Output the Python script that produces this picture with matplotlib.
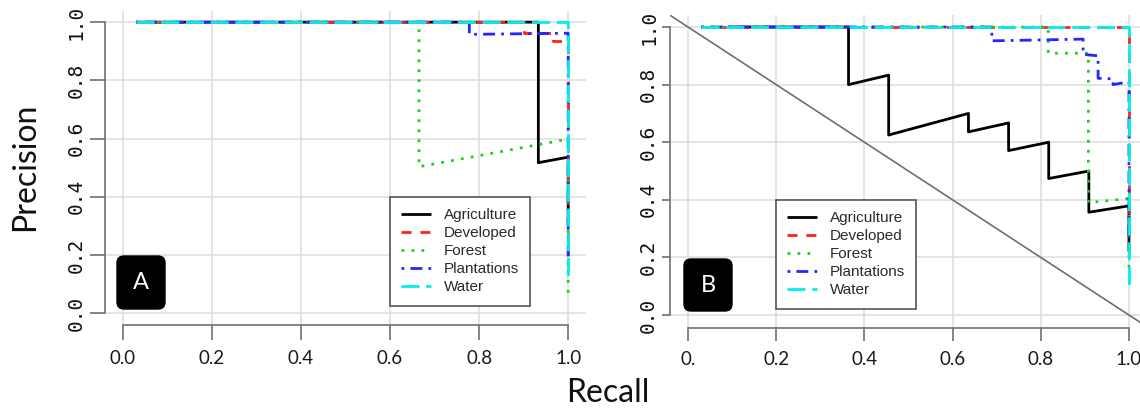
import matplotlib
matplotlib.use("Agg")
import matplotlib.pyplot as plt
from matplotlib.patches import FancyBboxPatch
from matplotlib.transforms import IdentityTransform

# ---------------- data ----------------
classes = ["Agriculture", "Developed", "Forest", "Plantations", "Water"]

# Panel A
agri_A_rec = [0.03, 0.933, 0.933, 1.0, 1.0]
agri_A_prec = [1.0, 1.0, 0.517, 0.536, 0.30]
dev_A_rec = [0.03, 0.90, 0.90, 0.966, 0.966, 1.0, 1.0]
dev_A_prec = [1.0, 1.0, 0.963, 0.963, 0.934, 0.934, 0.20]
for_A_rec = [0.03, 0.665, 0.665, 1.0, 1.0]
for_A_prec = [1.0, 1.0, 0.503, 0.598, 0.055]
pla_A_rec = [0.03, 0.778, 0.778, 1.0, 1.0]
pla_A_prec = [1.0, 1.0, 0.958, 0.962, 0.15]
wat_A_rec = [0.03, 1.0, 1.0]
wat_A_prec = [1.0, 1.0, 0.11]

# Panel B
agri_B_rec = [0.091, 0.364, 0.364, 0.455, 0.455, 0.636, 0.636, 0.727, 0.727,
              0.818, 0.818, 0.909, 0.909, 1.0, 1.0]
agri_B_prec = [1.0, 1.0, 0.80, 0.833, 0.625, 0.70, 0.636, 0.667, 0.571,
               0.60, 0.474, 0.50, 0.357, 0.379, 0.22]
dev_B_rec = [0.03, 1.0, 1.0]
dev_B_prec = [1.0, 1.0, 0.30]
for_B_rec = [0.03, 0.817, 0.817, 0.908, 0.908, 1.0, 1.0]
for_B_prec = [1.0, 1.0, 0.909, 0.909, 0.39, 0.405, 0.15]
pla_B_rec = [0.03, 0.689, 0.689, 0.896, 0.896, 0.93, 0.93, 0.964, 0.964, 1.0, 1.0]
pla_B_prec = [1.0, 1.0, 0.952, 0.958, 0.905, 0.90, 0.822, 0.82, 0.80, 0.81, 0.25]
wat_B_rec = [0.03, 1.0, 1.0]
wat_B_prec = [1.0, 1.0, 0.098]

ticks = [0.0, 0.2, 0.4, 0.6, 0.8, 1.0]
ytick_labels = ["0.0", "0.2", "0.4", "0.6", "0.8", "1.0"]
xtick_labels_A = ["0.0", "0.2", "0.4", "0.6", "0.8", "1.0"]
xtick_labels_B = ["0.", "0.2", "0.4", "0.6", "0.8", "1.0"]
panel_letters = ["A", "B"]
xlabel = "Recall"
ylabel = "Precision"

# ---------------- styles ----------------
colors = ["black", "#FF2020", "#22CC22", "#2525FF", "#00F0F0"]
LW = 2.0
dashes = [None, (3.6, 3.2), (1, 2.6), (1, 2.2, 4.3, 2.2), (6.5, 2.4)]

W, H = 1140, 412
fig = plt.figure(figsize=(W / 100, H / 100), dpi=100)
fig.patch.set_facecolor("white")

def px_axes(left, right, top, bottom):
    return [left / W, 1 - bottom / H, (right - left) / W, (bottom - top) / H]

axA = fig.add_axes(px_axes(105, 586, 11.1, 325))
axB = fig.add_axes(px_axes(670.4, 1146.6, 15.5, 328))

panels = [
    (axA, [(agri_A_rec, agri_A_prec), (dev_A_rec, dev_A_prec), (for_A_rec, for_A_prec),
           (pla_A_rec, pla_A_prec), (wat_A_rec, wat_A_prec)],
     (-0.041, 1.038), xtick_labels_A, 10.8, 10.8, (390, 197)),
    (axB, [(agri_B_rec, agri_B_prec), (dev_B_rec, dev_B_prec), (for_B_rec, for_B_prec),
           (pla_B_rec, pla_B_prec), (wat_B_rec, wat_B_prec)],
     (-0.045, 1.04), xtick_labels_B, 9.4, 5.8, (776, 200)),
]

AXC = "#707070"
for i, (ax, series, ylim, xtl, xtlen, ytlen, legpos) in enumerate(panels):
    ax.set_xlim(-0.04, 1.04)
    ax.set_ylim(*ylim)
    ax.set_facecolor("white")
    ax.grid(True, color="#DDDDDD", lw=1.1, zorder=0)
    ax.set_axisbelow(True)
    if i == 1:
        ax.axline((0, 1), slope=-1, color="#6E6E6E", lw=1.2, zorder=1)
    for (r, p), name, c, d in zip(series, classes, colors, dashes):
        ln, = ax.plot(r, p, color=c, lw=LW, label=name, zorder=2,
                      solid_capstyle="butt", dash_capstyle="butt")
        if d is not None:
            ln.set_dashes(d)
    for s in ["top", "right"]:
        ax.spines[s].set_visible(False)
    for s in ["left", "bottom"]:
        ax.spines[s].set_color(AXC)
        ax.spines[s].set_linewidth(1.2)
        ax.spines[s].set_bounds(0, 1)
    ax.set_xticks(ticks)
    ax.set_xticklabels(xtl, family="Lato", fontsize=13.5, color="#1A1A1A")
    ax.set_yticks(ticks)
    ax.set_yticklabels(ytick_labels, family="DejaVu Sans Mono", fontsize=14,
                       rotation=90, va="center", color="#111111")
    ax.tick_params(axis="x", length=xtlen, width=1.2, color=AXC, pad=7)
    ax.tick_params(axis="y", length=ytlen, width=1.2, color=AXC, pad=3)
    leg = ax.legend(loc="upper left",
                    bbox_to_anchor=(legpos[0] / W, 1 - legpos[1] / H),
                    bbox_transform=fig.transFigure, borderaxespad=0,
                    prop={"family": "Liberation Sans", "size": 11},
                    handlelength=1.96, handletextpad=0.8, labelspacing=0.26,
                    borderpad=0.75, fancybox=False, framealpha=1,
                    edgecolor="#555555", labelcolor="#2A2A2A")
    leg.get_frame().set_linewidth(1.2)

# panel letter boxes (pixel coordinates, origin bottom-left)
for (x0, x1, y0, y1), letter in zip([(117, 165, 256, 309), (684, 732, 259, 311)], panel_letters):
    box = FancyBboxPatch((x0 + 7, H - y1 + 7), (x1 - x0) - 14, (y1 - y0) - 14,
                         boxstyle="round,pad=7", fc="black", ec="black",
                         transform=IdentityTransform())
    fig.add_artist(box)
    fig.text((x0 + x1) / 2 / W, 1 - (y0 + y1) / 2 / H, letter, color="white",
             family="Lato", fontsize=17, ha="center", va="center")

fig.text(608 / W, 1 - 393 / H, xlabel, family="Lato", fontsize=23,
         ha="center", va="center", color="#111111")
fig.text(25 / W, 1 - 167 / H, ylabel, family="Lato", fontsize=23, rotation=90,
         ha="center", va="center", color="#111111")

fig.savefig("out.png", dpi=100, facecolor="white")
